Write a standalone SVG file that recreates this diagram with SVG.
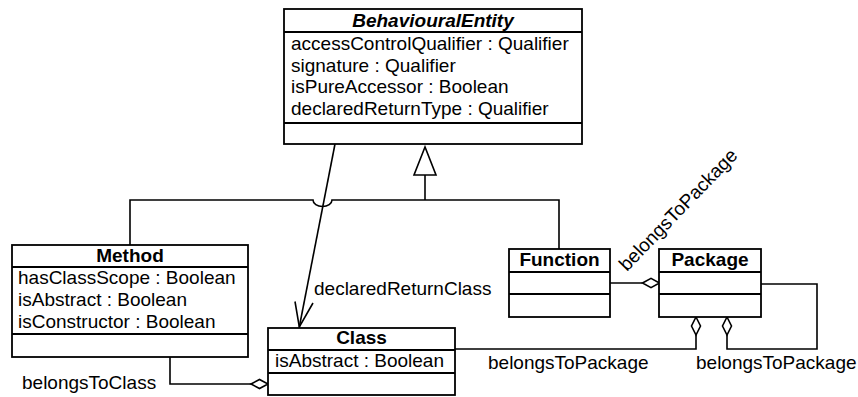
<svg xmlns="http://www.w3.org/2000/svg" width="858" height="397" viewBox="0 0 858 397">
<style>
text{font-family:"Liberation Sans",Arial,Helvetica,sans-serif;font-size:19px;fill:#000}
.t{font-weight:bold;text-anchor:middle}
.box{fill:#fff;stroke:#000;stroke-width:1.8}
.div{stroke:#000;stroke-width:1.8}
.c{fill:none;stroke:#000;stroke-width:1.6}
.dia{fill:#fff;stroke:#000;stroke-width:1.6}
</style>
<rect width="858" height="397" fill="#fff"/>
<g id="connectors">
  <polygon class="dia" points="425,147 414,175 436,175"/>
  <line class="c" x1="425" y1="175" x2="425" y2="200"/>
  <path class="c" d="M130,245 V200 H313 A9.5,6.5 0 0 0 332,200 H559 V249"/>
  <line class="c" x1="335" y1="144" x2="299.3" y2="327"/>
  <polyline class="c" points="295,301.5 299.3,327 313,303"/>
  <polyline class="c" points="170,357 170,384 251,384"/>
  <polygon class="dia" points="251,384 259.5,379.5 268,384 259.5,388.5"/>
  <line class="c" x1="610" y1="283" x2="642.5" y2="283"/>
  <polygon class="dia" points="642.5,283 651,278.3 659.5,283 651,287.7"/>
  <polyline class="c" points="696,335 696,349 455,349"/>
  <polygon class="dia" points="696,317 700.5,326 696,335 691.5,326"/>
  <polyline class="c" points="727,335 727,349 817,349 817,284 761,284"/>
  <polygon class="dia" points="727,317 731.5,326 727,335 722.5,326"/>
  <text x="314" y="295">declaredReturnClass</text>
  <text x="22" y="389">belongsToClass</text>
  <text x="488" y="369">belongsToPackage</text>
  <text x="696" y="369">belongsToPackage</text>
  <text transform="translate(627,272) rotate(-46)">belongsToPackage</text>
</g>
<g id="BehaviouralEntity">
  <rect class="box" x="284" y="9" width="298" height="135"/>
  <line class="div" x1="284" y1="32" x2="582" y2="32"/>
  <line class="div" x1="284" y1="123" x2="582" y2="123"/>
  <text class="t" x="433" y="27" font-style="italic">BehaviouralEntity</text>
  <text x="291" y="50">accessControlQualifier : Qualifier</text>
  <text x="291" y="71.5">signature : Qualifier</text>
  <text x="291" y="93">isPureAccessor : Boolean</text>
  <text x="291" y="114.5">declaredReturnType : Qualifier</text>
</g>
<g id="Method">
  <rect class="box" x="12" y="245" width="236" height="112"/>
  <line class="div" x1="12" y1="267" x2="248" y2="267"/>
  <line class="div" x1="12" y1="334" x2="248" y2="334"/>
  <text class="t" x="130" y="262">Method</text>
  <text x="18" y="284">hasClassScope : Boolean</text>
  <text x="18" y="306">isAbstract : Boolean</text>
  <text x="18" y="328">isConstructor : Boolean</text>
</g>
<g id="Class">
  <rect class="box" x="268" y="328" width="187" height="67"/>
  <line class="div" x1="268" y1="350" x2="455" y2="350"/>
  <line class="div" x1="268" y1="373" x2="455" y2="373"/>
  <text class="t" x="361.5" y="344">Class</text>
  <text x="275" y="366.5">isAbstract : Boolean</text>
</g>
<g id="Function">
  <rect class="box" x="509" y="249" width="101" height="68"/>
  <line class="div" x1="509" y1="272" x2="610" y2="272"/>
  <line class="div" x1="509" y1="294" x2="610" y2="294"/>
  <text class="t" x="559.5" y="266">Function</text>
</g>
<g id="Package">
  <rect class="box" x="659" y="249" width="102" height="68"/>
  <line class="div" x1="659" y1="272" x2="761" y2="272"/>
  <line class="div" x1="659" y1="294" x2="761" y2="294"/>
  <text class="t" x="710" y="266">Package</text>
</g>
</svg>
